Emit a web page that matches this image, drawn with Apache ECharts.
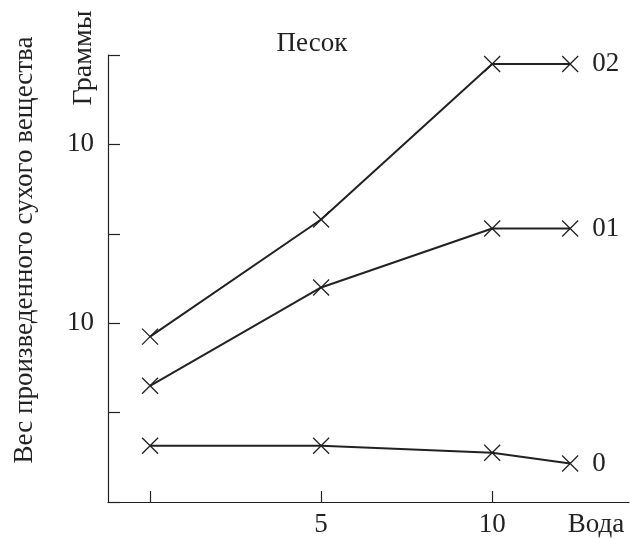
<!DOCTYPE html>
<html>
<head>
<meta charset="utf-8">
<script src="https://cdn.jsdelivr.net/npm/echarts@6/dist/echarts.min.js"></script>
<style>
html,body{margin:0;padding:0;background:#fff;}
#c{width:638px;height:538px;}
</style>
</head>
<body>
<div id="c"></div>
<script>
// Data
var waterX = [0, 5, 10, 12.28];
var series02 = [1.85, 3.16, 4.90, 4.90];
var series01 = [1.30, 2.40, 3.06, 3.06];
var series0 = [0.63, 0.63, 0.55, 0.43];
var seriesNames = ['02', '01', '0'];
var xTickValues = [0, 5, 10];
var xLabelValues = [5, 10];
var yLabelValues = [2, 4];
var yLabelText = '10';
var yTitle = 'Вес произведенного сухого вещества';
var yUnit = 'Граммы';
var chartTitle = 'Песок';
var xTitle = 'Вода';

var FONT = '"Liberation Serif", "DejaVu Serif", serif';
var INK = '#222';
var FS = 27;

function pairs(xs, ys) { return xs.map(function (x, i) { return [x, ys[i]]; }); }

var crossPath = 'path://M0,0L10,10M10,0L0,10';

function mkSeries(name, ys) {
  return {
    type: 'line',
    name: name,
    data: pairs(waterX, ys),
    symbol: crossPath,
    symbolSize: 16,
    itemStyle: { color: 'rgba(0,0,0,0)', borderColor: INK, borderWidth: 1.3 },
    lineStyle: { color: INK, width: 2 },
    emphasis: { disabled: true },
    animation: false,
    endLabel: {
      show: true,
      formatter: name,
      distance: 22,
      color: INK,
      fontFamily: FONT,
      fontSize: FS
    }
  };
}

var chart = echarts.init(document.getElementById('c'), null, { renderer: 'canvas' });
chart.setOption({
  backgroundColor: '#fff',
  animation: false,
  grid: { left: 108, top: 55, right: 9, bottom: 36 },
  xAxis: {
    type: 'value',
    min: -1.23,
    max: 14.0,
    splitLine: { show: false },
    axisLine: { onZero: false, lineStyle: { color: INK, width: 1.2 } },
    axisTick: { show: true, inside: true, length: 11, customValues: xTickValues, lineStyle: { color: INK, width: 1.2 } },
    axisLabel: { customValues: xLabelValues, color: INK, fontFamily: FONT, fontSize: FS, margin: 9 }
  },
  yAxis: {
    type: 'value',
    min: 0,
    max: 5,
    interval: 1,
    splitLine: { show: false },
    axisLine: { show: true, onZero: false, lineStyle: { color: INK, width: 1.2 } },
    axisTick: { show: true, inside: true, length: 12, lineStyle: { color: INK, width: 1.2 } },
    axisLabel: {
      customValues: yLabelValues,
      formatter: function () { return yLabelText; },
      color: INK, fontFamily: FONT, fontSize: FS, margin: 14
    }
  },
  graphic: [
    { type: 'text', x: 25, y: 250, rotation: Math.PI / 2,
      style: { text: yTitle, fill: INK, font: '27px ' + FONT, textAlign: 'center', textVerticalAlign: 'middle' } },
    { type: 'text', x: 84, y: 58, rotation: Math.PI / 2,
      style: { text: yUnit, fill: INK, font: '28px ' + FONT, textAlign: 'center', textVerticalAlign: 'middle' } },
    { type: 'text', x: 312, y: 44,
      style: { text: chartTitle, fill: INK, font: FS + 'px ' + FONT, textAlign: 'center', textVerticalAlign: 'middle' } },
    { type: 'text', x: 596, y: 525,
      style: { text: xTitle, fill: INK, font: FS + 'px ' + FONT, textAlign: 'center', textVerticalAlign: 'middle' } }
  ],
  series: [
    mkSeries(seriesNames[0], series02),
    mkSeries(seriesNames[1], series01),
    mkSeries(seriesNames[2], series0)
  ]
});
</script>
</body>
</html>
